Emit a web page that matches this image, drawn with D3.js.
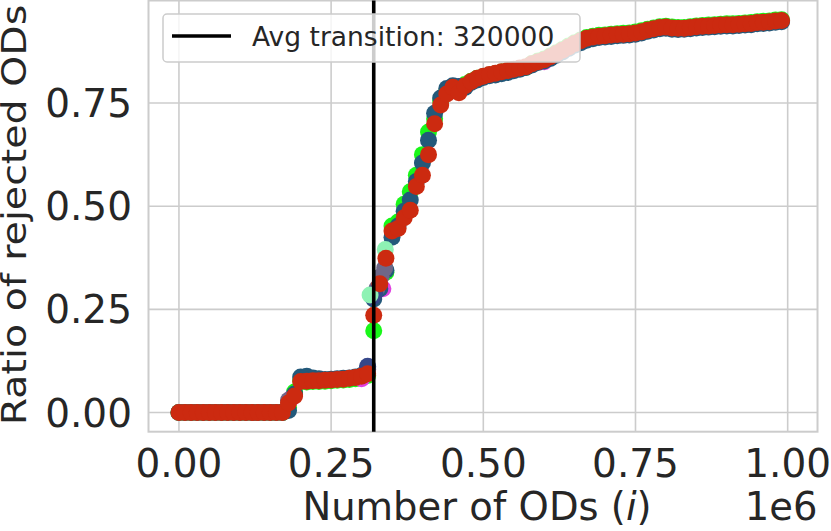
<!DOCTYPE html>
<html>
<head>
<meta charset="utf-8">
<script src="https://cdn.jsdelivr.net/npm/d3@7"></script>
<style>
  body { margin: 0; background: #fff; }
  text { font-family: "DejaVu Sans", sans-serif; fill: #262626; }
</style>
</head>
<body>
<div id="chart"></div>
<script>
// number of ODs, in thousands
var odsK = [0, 10, 20, 30, 40, 50, 60, 70, 80, 90,
  100, 110, 120, 130, 140, 150, 160, 170, 180, 190,
  200, 210, 220, 230, 240, 250, 260, 270, 280, 290,
  300, 310, 320, 330, 340, 350, 360, 370, 380, 390,
  400, 410, 420, 430, 440, 450, 460, 470, 480, 490,
  500, 510, 520, 530, 540, 550, 560, 570, 580, 590,
  600, 610, 620, 630, 640, 650, 660, 670, 680, 690,
  700, 710, 720, 730, 740, 750, 760, 770, 780, 790,
  800, 810, 820, 830, 840, 850, 860, 870, 880, 890,
  900, 910, 920, 930, 940, 950, 960, 970, 980, 990];

var redRun = [0, 0, 0, 0, 0, 0, 0, 0, 0, 0,
  0, 0, 0, 0, 0, 0, 0, 0, 0.023, 0.040,
  0.075, 0.076, 0.077, 0.077, 0.078, 0.079, 0.080, 0.081, 0.083, 0.085,
  0.088, 0.094, 0.236, 0.312, 0.374, 0.440, 0.446, 0.472, 0.490, 0.548,
  0.575, 0.625, 0.700, 0.745, 0.772, 0.788, 0.775, 0.792, 0.802, 0.810,
  0.815, 0.819, 0.822, 0.826, 0.829, 0.832, 0.835, 0.838, 0.845, 0.850,
  0.855, 0.862, 0.870, 0.878, 0.886, 0.894, 0.901, 0.907, 0.910, 0.912,
  0.913, 0.915, 0.916, 0.917, 0.918, 0.920, 0.923, 0.927, 0.930, 0.933,
  0.934, 0.932, 0.931, 0.931, 0.933, 0.935, 0.936, 0.937, 0.938, 0.939,
  0.940, 0.940, 0.941, 0.942, 0.943, 0.945, 0.946, 0.947, 0.949, 0.950];

var tealRun = [0, 0, 0, 0, 0, 0, 0, 0, 0, 0,
  0, 0, 0, 0, 0, 0, 0, 0, 0.005, 0.045,
  0.086, 0.088, 0.084, 0.082, 0.080, 0.081, 0.082, 0.083, 0.084, 0.086,
  0.090, 0.108, 0.275, 0.300, 0.345, 0.425, 0.452, 0.488, 0.515, 0.560,
  0.605, 0.660, 0.725, 0.762, 0.785, 0.792, 0.790, 0.788, 0.800, 0.806,
  0.812, 0.816, 0.818, 0.821, 0.824, 0.828, 0.832, 0.836, 0.842, 0.848,
  0.852, 0.858, 0.866, 0.874, 0.882, 0.890, 0.896, 0.902, 0.906, 0.909,
  0.910, 0.911, 0.913, 0.914, 0.915, 0.917, 0.920, 0.924, 0.927, 0.930,
  0.931, 0.929, 0.928, 0.929, 0.930, 0.932, 0.933, 0.934, 0.935, 0.936,
  0.937, 0.937, 0.938, 0.939, 0.940, 0.942, 0.943, 0.944, 0.946, 0.947];

var greenRun = [0, 0, 0, 0, 0, 0, 0, 0, 0, 0,
  0, 0, 0, 0, 0, 0, 0, 0, 0.012, 0.050,
  0.078, 0.074, 0.075, 0.075, 0.076, 0.077, 0.078, 0.079, 0.080, 0.082,
  0.085, 0.090, 0.198, 0.305, 0.340, 0.452, 0.462, 0.505, 0.535, 0.575,
  0.625, 0.680, 0.712, 0.755, 0.780, 0.786, 0.782, 0.795, 0.803, 0.810,
  0.814, 0.818, 0.821, 0.825, 0.828, 0.831, 0.834, 0.837, 0.846, 0.852,
  0.857, 0.864, 0.872, 0.880, 0.888, 0.896, 0.903, 0.909, 0.912, 0.914,
  0.915, 0.917, 0.918, 0.919, 0.920, 0.922, 0.925, 0.929, 0.932, 0.935,
  0.936, 0.934, 0.933, 0.933, 0.935, 0.937, 0.938, 0.939, 0.940, 0.941,
  0.942, 0.942, 0.943, 0.944, 0.945, 0.947, 0.948, 0.949, 0.951, 0.952];

// a few other runs that only peek out around the steps
var magentaK = [185, 300, 335, 460, 600];
var magentaRun = [0.035, 0.082, 0.300, 0.790, 0.850];
var slateK = [180, 310, 325, 332, 338, 460];
var slateRun = [0.030, 0.105, 0.300, 0.330, 0.350, 0.780];
var navyK = [310, 318, 322];
var navyRun = [0.112, 0.280, 0.290];
var mintK = [314, 339];
var mintRun = [0.285, 0.395];

var avgTransitionK = 320;
var xTicks = [0, 250, 500, 750, 1000];
var xTickLabels = ["0.00", "0.25", "0.50", "0.75", "1.00"];
var yTicks = [0, 0.25, 0.5, 0.75];
var yTickLabels = ["0.00", "0.25", "0.50", "0.75"];

var W = 831, H = 531;
var plotL = 148.5, plotR = 817.5, plotT = 0.5, plotB = 431.7;

var svg = d3.select("#chart").append("svg")
  .attr("width", W)
  .attr("height", H);

var x = d3.scaleLinear().domain([-50, 1049]).range([plotL, plotR]);
var y = d3.scaleLinear().domain([-0.0464, 0.9985]).range([plotB, plotT]);

// grid
svg.append("g")
  .selectAll("line")
  .data(xTicks)
  .enter()
  .append("line")
  .attr("x1", (d) => x(d))
  .attr("x2", (d) => x(d))
  .attr("y1", plotT)
  .attr("y2", plotB)
  .attr("stroke", "#cccccc")
  .attr("stroke-width", 1.6);
svg.append("g")
  .selectAll("line")
  .data(yTicks)
  .enter()
  .append("line")
  .attr("x1", plotL)
  .attr("x2", plotR)
  .attr("y1", (d) => y(d))
  .attr("y2", (d) => y(d))
  .attr("stroke", "#cccccc")
  .attr("stroke-width", 1.6);

// frame
svg.append("rect")
  .attr("x", plotL)
  .attr("y", plotT)
  .attr("width", plotR - plotL)
  .attr("height", plotB - plotT)
  .attr("fill", "none")
  .attr("stroke", "#cccccc")
  .attr("stroke-width", 2);

var dots = svg.append("g");
function scatter(ks, vals, color) {
  dots.append("g")
    .selectAll("circle")
    .data(vals)
    .enter()
    .append("circle")
    .attr("cx", (d, i) => x(ks[i]))
    .attr("cy", (d) => y(d))
    .attr("r", 8.5)
    .attr("fill", color);
}
scatter(odsK, greenRun, "#19f719");
scatter(magentaK, magentaRun, "#e040e0");
scatter(odsK, tealRun, "#23597a");
scatter(slateK, slateRun, "#6f6787");
scatter(navyK, navyRun, "#36478a");
scatter(mintK, mintRun, "#8ef2b4");
scatter(odsK, redRun, "#cc2a10");

// average transition line
svg.append("line")
  .attr("x1", x(avgTransitionK))
  .attr("x2", x(avgTransitionK))
  .attr("y1", plotT)
  .attr("y2", plotB)
  .attr("stroke", "#000")
  .attr("stroke-width", 3.6);

// tick labels
svg.append("g")
  .selectAll("text")
  .data(xTicks)
  .enter()
  .append("text")
  .attr("x", (d) => x(d))
  .attr("y", 477)
  .attr("text-anchor", "middle")
  .style("font-size", "39px")
  .text((d, i) => xTickLabels[i]);
svg.append("g")
  .selectAll("text")
  .data(yTicks)
  .enter()
  .append("text")
  .attr("x", 132)
  .attr("y", (d) => y(d))
  .attr("dy", "0.36em")
  .attr("text-anchor", "end")
  .style("font-size", "39px")
  .text((d, i) => yTickLabels[i]);

// axis titles
var xt = svg.append("text")
  .attr("x", 477)
  .attr("y", 520)
  .attr("text-anchor", "middle")
  .style("font-size", "38.5px");
xt.append("tspan").text("Number of ODs (");
xt.append("tspan").style("font-style", "italic").text("i");
xt.append("tspan").text(")");

svg.append("text")
  .attr("x", plotR)
  .attr("y", 520)
  .attr("text-anchor", "end")
  .style("font-size", "38.5px")
  .text("1e6");

// the y title looks a little squeezed across its height in the reference
svg.append("text")
  .attr("transform", "translate(26," + 215 + ") rotate(-90) scale(1,0.85)")
  .attr("text-anchor", "middle")
  .style("font-size", "39.5px")
  .text("Ratio of rejected ODs");

// legend
var lg = svg.append("g");
lg.append("rect")
  .attr("x", 163)
  .attr("y", 14)
  .attr("width", 417)
  .attr("height", 48)
  .attr("rx", 4)
  .attr("fill", "#fff")
  .attr("fill-opacity", 0.8)
  .attr("stroke", "#cccccc")
  .attr("stroke-width", 1.5);
lg.append("line")
  .attr("x1", 172)
  .attr("x2", 231)
  .attr("y1", 36)
  .attr("y2", 36)
  .attr("stroke", "#000")
  .attr("stroke-width", 3.6);
lg.append("text")
  .attr("x", 252)
  .attr("y", 46)
  .style("font-size", "26.5px")
  .text("Avg transition: " + avgTransitionK * 1000);
</script>
</body>
</html>
